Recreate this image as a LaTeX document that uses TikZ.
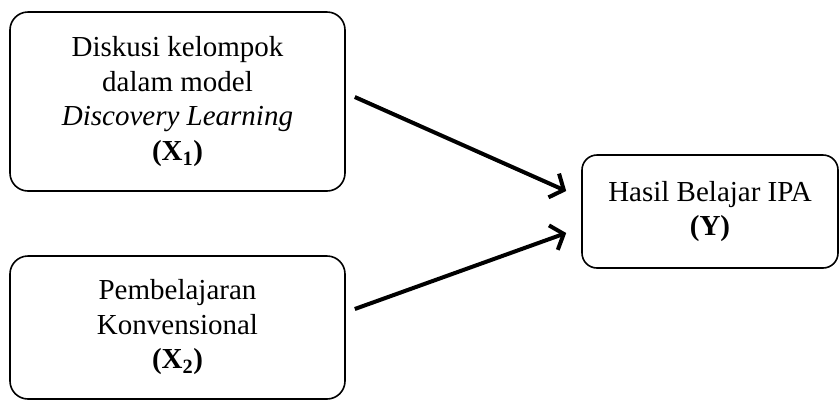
\documentclass[tikz,border=0pt]{standalone}
\usepackage{fontspec}
\setmainfont{Liberation Serif}
\usetikzlibrary{arrows.meta,calc}
\begin{document}
\begin{tikzpicture}[x=1pt,y=-1pt,
  box/.style={draw=black, line width=1.6pt, rounded corners=18pt, align=center,
    font=\fontsize{29}{34.5}\selectfont, inner sep=0pt},
  conn/.style={line width=4pt, -{Straight Barb[length=11pt,width=26pt,line width=4pt]}}]
\useasboundingbox (0,0) rectangle (840,400);
\node[box, minimum width=335pt, minimum height=179pt] (x1) at (177.5,101.5)
  {Diskusi kelompok\\dalam model\\\textit{Discovery Learning}\\\textbf{(X\textsubscript{1})}};
\node[box, minimum width=335pt, minimum height=143pt] (x2) at (177.5,327.5)
  {Pembelajaran\\Konvensional\\\textbf{(X\textsubscript{2})}};
\node[box, rounded corners=15pt, minimum width=256pt, minimum height=113pt] (y) at (710,211.5)
  {Hasil Belajar IPA\\\textbf{(Y)}};
\draw[conn] ($(x1.east)+(9,-4.5)$) -- ($(y.west)+(-15,-20.5)$);
\draw[conn] ($(x2.east)+(9,-18.5)$) -- ($(y.west)+(-15,21.5)$);
\end{tikzpicture}
\end{document}
